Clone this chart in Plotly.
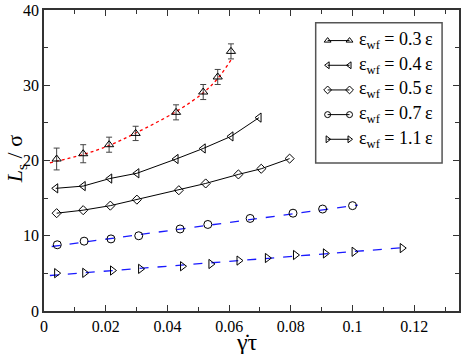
import plotly.graph_objects as go

# shear rate (gamma dot tau) and slip length L_s/sigma
x_03 = [0.0041, 0.0127, 0.0211, 0.0297, 0.0428, 0.0516, 0.0563, 0.0606]
y_03 = [20.2, 20.9, 22.1, 23.6, 26.4, 29.1, 31.1, 34.5]
err_03 = [1.45, 1.2, 1.0, 0.95, 1.0, 1.0, 1.0, 1.0]
fit_x_03 = [0.0019, 0.0127, 0.0211, 0.0297, 0.0428, 0.0516, 0.0563, 0.061]
fit_y_03 = [19.7, 20.8, 22.0, 23.65, 26.5, 29.0, 30.9, 33.6]

x_04 = [0.0038, 0.0127, 0.0213, 0.0301, 0.0428, 0.0516, 0.0606, 0.0697]
y_04 = [16.3, 16.6, 17.6, 18.3, 20.2, 21.6, 23.2, 25.7]

x_05 = [0.0041, 0.0127, 0.0215, 0.0301, 0.0437, 0.0524, 0.063, 0.0704, 0.0796]
y_05 = [13.0, 13.4, 14.0, 14.8, 16.05, 16.95, 18.15, 18.9, 20.25]

x_07 = [0.0043, 0.013, 0.0217, 0.0307, 0.0441, 0.0531, 0.0668, 0.0807, 0.0903, 0.1]
y_07 = [8.8, 9.28, 9.58, 10.0, 10.9, 11.5, 12.3, 13.0, 13.55, 14.0]
fit_x_07 = [0.0025, 0.1017]
fit_y_07 = [8.57, 14.08]

x_11 = [0.0041, 0.0132, 0.0222, 0.0313, 0.0449, 0.0541, 0.0632, 0.0724, 0.0815, 0.0912, 0.1005, 0.1161]
y_11 = [5.03, 5.07, 5.38, 5.6, 5.95, 6.25, 6.7, 7.04, 7.44, 7.65, 7.87, 8.36]
fit_x_11 = [0.0019, 0.1175]
fit_y_11 = [4.72, 8.45]

legend_labels = ['0.3', '0.4', '0.5', '0.7', '1.1']
legend_symbols = ['triangle-up-open', 'triangle-left-open', 'diamond-open', 'circle-open', 'triangle-right-open']

FONT = 'Liberation Serif, Times New Roman, serif'
mk = dict(size=8, color='black', line=dict(width=1, color='black'))

fig = go.Figure()

fig.add_trace(go.Scatter(x=fit_x_03, y=fit_y_03, mode='lines', line=dict(color='red', width=1.3, dash='dot', shape='spline')))
fig.add_trace(go.Scatter(x=x_03, y=y_03, mode='markers', marker=dict(symbol='triangle-up-open', **mk),
                         error_y=dict(type='data', array=err_03, color='#444', thickness=1, width=3)))
fig.add_trace(go.Scatter(x=x_04, y=y_04, mode='lines+markers', line=dict(color='black', width=1),
                         marker=dict(symbol='triangle-left-open', **mk)))
fig.add_trace(go.Scatter(x=x_05, y=y_05, mode='lines+markers', line=dict(color='black', width=1),
                         marker=dict(symbol='diamond-open', size=7, color='black', line=dict(width=1, color='black'))))
fig.add_trace(go.Scatter(x=fit_x_07, y=fit_y_07, mode='lines', line=dict(color='#1a1aff', width=1.3, dash='dash')))
fig.add_trace(go.Scatter(x=x_07, y=y_07, mode='markers', marker=dict(symbol='circle-open', **mk)))
fig.add_trace(go.Scatter(x=fit_x_11, y=fit_y_11, mode='lines', line=dict(color='#1a1aff', width=1.3, dash='dash')))
fig.add_trace(go.Scatter(x=x_11, y=y_11, mode='markers', marker=dict(symbol='triangle-right-open', **mk)))

# hand-made legend on an overlay axis in pixel units
row_y = [37, 62, 87, 112, 137]
for lab, sym, ry in zip(legend_labels, legend_symbols, row_y):
    fig.add_trace(go.Scatter(x=[329, 351], y=[ry, ry], mode='lines+markers', xaxis='x2', yaxis='y2',
                             line=dict(color='black', width=1),
                             marker=dict(symbol=sym, size=6, color='black', line=dict(width=1, color='black'))))
    fig.add_annotation(x=359, y=ry, xref='x2', yref='y2', xanchor='left', yanchor='middle', showarrow=False,
                       text='ε<sub>wf</sub> = ' + lab + '\u2009ε', font=dict(family=FONT, size=18, color='black'))

fig.add_shape(type='rect', xref='x2', yref='y2', x0=317, x1=444, y0=19, y1=161,
              line=dict(color='#555', width=1.5))

# axis titles
fig.add_annotation(x=0.49, y=-0.102, xref='paper', yref='paper', showarrow=False, xanchor='center', yanchor='middle',
                   text='γ̇τ', font=dict(family=FONT, size=24, color='black'))
fig.add_annotation(x=-0.067, y=0.505, xref='paper', yref='paper', showarrow=False, xanchor='center', yanchor='middle',
                   textangle=-90, text='<i>L</i><sub>s</sub> / σ', font=dict(family=FONT, size=22, color='black'))

ax = dict(showline=True, linecolor='#333', linewidth=1.5, mirror='allticks', ticks='inside',
          ticklen=6, tickwidth=1, tickcolor='#333', showgrid=False, zeroline=False,
          ticklabeloverflow='allow', tickfont=dict(family=FONT, size=16, color='black'))

fig.update_layout(
    width=463, height=354, showlegend=False,
    margin=dict(l=44, r=2, t=6, b=43),
    plot_bgcolor='white', paper_bgcolor='white',
    xaxis=dict(range=[0, 0.1345], tickvals=[0, 0.02, 0.04, 0.06, 0.08, 0.1, 0.12],
               ticktext=['0', '0.02', '0.04', '0.06', '0.08', '0.1', '0.12'],
               minor=dict(dtick=0.01, ticks='inside', ticklen=4, tickcolor='#333'), **ax),
    yaxis=dict(range=[0, 40], tickvals=[0, 10, 20, 30, 40],
               minor=dict(dtick=5, ticks='inside', ticklen=4, tickcolor='#333'), **ax),
    xaxis2=dict(overlaying='x', range=[44, 461], visible=False, fixedrange=True),
    yaxis2=dict(overlaying='y', range=[311, 6], visible=False, fixedrange=True),
)

# page body has an 8px default margin, drop it so the figure sits at the corner
fig.write_html('out.html', config={'displayModeBar': False},
               post_script="document.body.style.margin='0';")
